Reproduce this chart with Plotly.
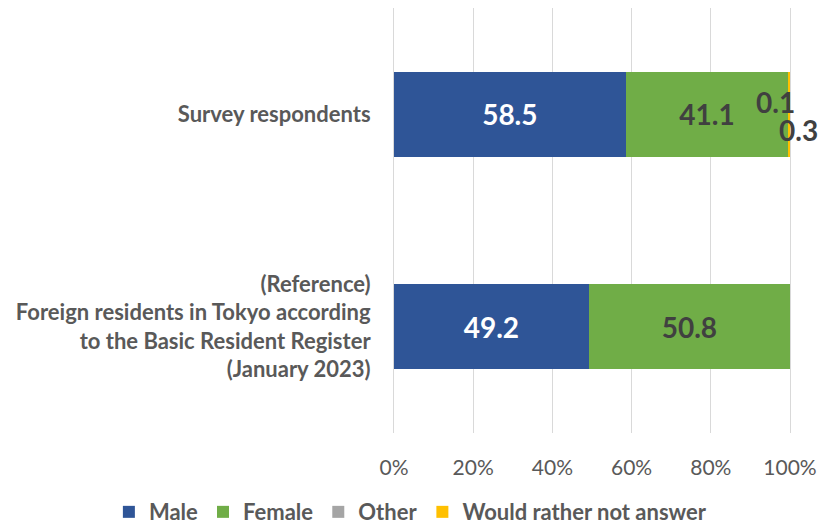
import plotly.graph_objects as go

# Share of respondents by gender (%)
categories = [
    "Survey respondents",
    "(Reference)<br>Foreign residents in Tokyo according<br>to the Basic Resident Register<br>(January 2023)",
]
series_names = ["Male", "Female", "Other", "Would rather not answer"]
male = [58.5, 49.2]
female = [41.1, 50.8]
other = [0.1, 0.0]
no_answer = [0.3, 0.0]
x_ticks = [0, 20, 40, 60, 80, 100]
x_tick_labels = ["0%", "20%", "40%", "60%", "80%", "100%"]

colors = ["#2f5597", "#70ad47", "#a5a5a5", "#ffc000"]
font_family = "Lato, 'Open Sans', sans-serif"
gray = "#595959"
dark = "#404040"
grid = "#d9d9d9"
label_size = 28

fig = go.Figure()
values = [male, female, other, no_answer]
label_colors = ["white", dark, dark, dark]
for i, (name, vals) in enumerate(zip(series_names, values)):
    show_inside = i < 2
    fig.add_trace(go.Bar(
        name=name,
        y=categories,
        x=vals,
        orientation="h",
        marker=dict(color=colors[i], line=dict(width=0)),
        text=[f"{v:.1f}" for v in vals] if show_inside else None,
        textposition="inside" if show_inside else "none",
        insidetextanchor="middle",
        textfont=dict(family=font_family, size=label_size, color=label_colors[i], weight="bold"),
        hoverinfo="skip",
    ))

# Small segments get their labels placed beside the bar end
cum_other = male[0] + female[0] + other[0] / 2
cum_none = male[0] + female[0] + other[0] + no_answer[0] / 2
fig.add_annotation(x=cum_other, y=categories[0], text=f"{other[0]:.1f}",
                   showarrow=False, xshift=-13, yshift=12,
                   font=dict(family=font_family, size=label_size, color=dark, weight="bold"))
fig.add_annotation(x=cum_none, y=categories[0], text=f"{no_answer[0]:.1f}",
                   showarrow=False, xshift=9, yshift=-16,
                   font=dict(family=font_family, size=label_size, color=dark, weight="bold"))

fig.update_layout(
    barmode="stack",
    bargap=0.6,
    width=819,
    height=527,
    margin=dict(l=394, r=29, t=8, b=94, autoexpand=False),
    paper_bgcolor="white",
    plot_bgcolor="white",
    font=dict(family=font_family, color=gray),
    xaxis=dict(
        range=[0, 100],
        tickvals=x_ticks,
        ticktext=x_tick_labels,
        showgrid=True,
        gridcolor=grid,
        gridwidth=1,
        zeroline=False,
        showline=False,
        tickfont=dict(size=21, color=gray),
        ticklabelstandoff=20,
    ),
    yaxis=dict(
        categoryorder="array",
        categoryarray=categories,
        autorange="reversed",
        showgrid=False,
        showline=True,
        linecolor=grid,
        linewidth=1,
        mirror=True,
        zeroline=False,
        tickfont=dict(size=22, color=gray, weight="bold"),
        ticklabelstandoff=18,
        layer="below traces",
    ),
    legend=dict(
        orientation="h",
        xref="paper",
        yref="paper",
        x=-0.72,
        y=-0.186,
        xanchor="left",
        yanchor="middle",
        font=dict(size=22, color=gray, weight="bold"),
        itemwidth=30,
        traceorder="normal",
    ),
    showlegend=True,
)

fig.write_html("out.html")
